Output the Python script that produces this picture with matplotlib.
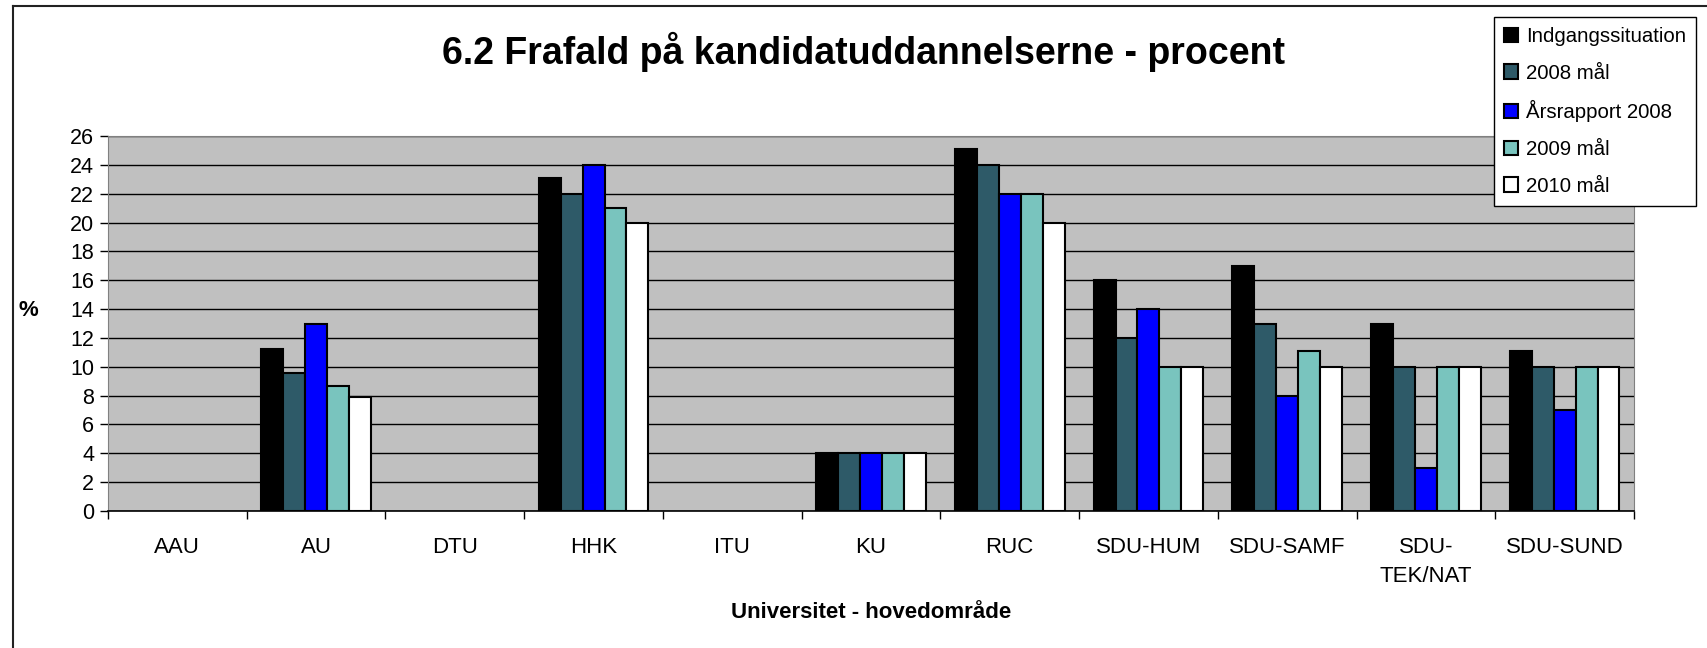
import numpy as np
import matplotlib.pyplot as plt
from matplotlib.lines import Line2D

plt.rcParams['font.family'] = ['Liberation Sans', 'DejaVu Sans']

# Data (nan = no bar)
universities = ['AAU', 'AU', 'DTU', 'HHK', 'ITU', 'KU', 'RUC', 'SDU-HUM',
                'SDU-SAMF', 'SDU-\nTEK/NAT', 'SDU-SUND']
nan = np.nan
indgang = [nan, 11.2, nan, 23.1, nan, 4, 25.1, 16, 17, 13, 11.1]
maal_2008 = [nan, 9.6, nan, 22, nan, 4, 24, 12, 13, 10, 10]
aarsrapport_2008 = [nan, 13, nan, 24, nan, 4, 22, 14, 8, 3, 7]
maal_2009 = [nan, 8.7, nan, 21, nan, 4, 22, 10, 11.1, 10, 10]
maal_2010 = [nan, 7.9, nan, 20, nan, 4, 20, 10, 10, 10, 10]

series = [indgang, maal_2008, aarsrapport_2008, maal_2009, maal_2010]
labels = ['Indgangssituation', '2008 mål', 'Årsrapport 2008', '2009 mål', '2010 mål']
colors = ['#000000', '#2E5A68', '#0000FF', '#79C4BE', '#FFFFFF']

fig = plt.figure(figsize=(17.08, 6.48), dpi=100)
ax = fig.add_axes([108 / 1708, 1 - 511 / 648, (1634 - 108) / 1708, (511 - 136) / 648])
ax.set_facecolor('#C0C0C0')

x = np.arange(len(universities))
w = 0.158
for i, (vals, lab, col) in enumerate(zip(series, labels, colors)):
    ax.bar(x + (i - 2) * w, vals, width=w, color=col, edgecolor='black',
           linewidth=1.5, label=lab, zorder=3)

ax.set_xlim(-0.5, len(universities) - 0.5)
ax.set_ylim(0, 26)
ax.set_yticks(range(0, 27, 2))
ax.yaxis.grid(True, color='black', linewidth=1, zorder=0)
ax.set_axisbelow(True)

ax.set_xticks(np.arange(-0.5, len(universities), 1))
ax.set_xticklabels([])
ax.set_xticks(x, minor=True)
ax.set_xticklabels(universities, minor=True, fontsize=16, linespacing=1.45)
ax.tick_params(axis='x', which='major', length=6, width=1)
ax.tick_params(axis='x', which='minor', length=0, pad=19)
ax.tick_params(axis='y', length=6, width=1, labelsize=15.5, pad=4)

for s in ['top', 'right', 'left']:
    ax.spines[s].set_color('#808080')
ax.spines['bottom'].set_color('black')
ax.spines['bottom'].set_linewidth(1.2)

fig.text(864 / 1708, 1 - 52 / 648, '6.2 Frafald på kandidatuddannelserne - procent',
         ha='center', va='center', fontsize=27, fontweight='bold')
fig.text(871 / 1708, 1 - 612 / 648, 'Universitet - hovedområde',
         ha='center', va='center', fontsize=16, fontweight='bold')
fig.text(28 / 1708, 1 - 310 / 648, '%', ha='center', va='center',
         fontsize=16, fontweight='bold')

leg = fig.legend(loc='upper left', bbox_to_anchor=(1494 / 1708, 1 - 17 / 648),
                 fontsize=14.7, frameon=True, fancybox=False, edgecolor='black',
                 framealpha=1, handlelength=0.7, handleheight=0.7, handletextpad=0.35,
                 labelspacing=0.86, borderpad=0.5, borderaxespad=0)
leg.get_frame().set_linewidth(1)

# outer chart border (left and top edges visible)
fig.add_artist(Line2D([13 / 1708, 13 / 1708], [0, 1 - 6 / 648], color='#222222', lw=1.5))
fig.add_artist(Line2D([13 / 1708, 1], [1 - 6 / 648, 1 - 6 / 648], color='#222222', lw=1.5))

fig.savefig('out.png', dpi=100)
